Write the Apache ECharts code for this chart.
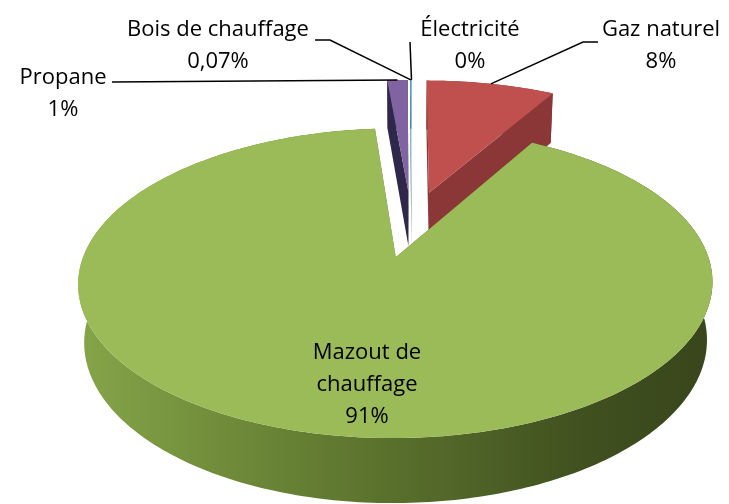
<!DOCTYPE html>
<html style="height: 100%">
<head>
    <meta charset="utf-8">
</head>
<body style="height: 100%; margin: 0; background: #fff">
    <div id="container" style="width: 729px; height: 504px"></div>
    <script type="text/javascript" src="https://cdn.jsdelivr.net/npm/echarts@6/dist/echarts.min.js"></script>
    <script type="text/javascript">
        // data (pie order, clockwise from 12 o'clock)
        var names = ['Électricité', 'Gaz naturel', 'Mazout de chauffage', 'Propane', 'Bois de chauffage'];
        var values = [0, 8.2, 90.5, 1.3, 0.07];
        var labelNames = ['Électricité', 'Gaz naturel', 'Mazout de\nchauffage', 'Propane', 'Bois de chauffage'];

        // look
        var topColors = ['#4f81bd', '#c0504d', '#9bbb59', '#8064a2', '#4bacc6'];
        var sideColors = ['#2f4b70', '#8b3737', null, '#30284a', '#2d6878'];
        var drawRank = [0, 3, 4, 2, 1];   // back to front
        var labelPos = [[470, 46], [661, 46], [367, 385], [63, 94], [218, 46]];
        var leaders = [[[410, 42]], [[583, 42], [598, 42]], null, [[112, 82]], [[330, 40], [315, 40]]];

        // perspective camera for the 3d pie (radius = 1)
        var F = 1682, FX = 0.984, L = 5.5, S = 0.456, C = 0.89, CX = 411.5, CY = 223.6;
        var DEPTH = 0.209, EXPLODE = 0.237;

        var total = values.reduce(function (a, b) { return a + b; }, 0);
        var starts = [];
        var acc = 0;
        values.forEach(function (v) { starts.push(acc / total * Math.PI * 2); acc += v; });

        function proj(u, v, h) {
            var yc = v * S + h * C;
            var zc = L + v * C - h * S;
            return [CX + FX * F * u / zc, CY - F * yc / zc];
        }

        function fmtPct(v) {
            var s = (v > 0 && v < 0.5) ? v.toFixed(2) : String(Math.round(v));
            return s.replace('.', ',') + '%';
        }

        var greenSide = new echarts.graphic.LinearGradient(77, 0, 712, 0, [
            { offset: 0, color: '#86a549' },
            { offset: 0.35, color: '#657f33' },
            { offset: 0.8, color: '#40501f' },
            { offset: 1, color: '#38461b' }
        ], true);

        function renderItem(params, api) {
            var i = params.dataIndex;
            var a0 = starts[i];
            var a1 = a0 + api.value(0) / total * Math.PI * 2;
            var mid = (a0 + a1) / 2;
            var ou = EXPLODE * Math.sin(mid), ov = EXPLODE * Math.cos(mid);
            var rim = function (a, h) { return proj(ou + Math.sin(a), ov + Math.cos(a), h); };
            var center = function (h) { return proj(ou, ov, h); };
            var base = drawRank[i] * 10;
            var children = [];

            if (a1 > a0) {
                var n = Math.max(2, Math.ceil((a1 - a0) / (Math.PI / 180)));
                var topArc = [], botArc = [];
                for (var k = 0; k <= n; k++) {
                    var a = a0 + (a1 - a0) * k / n;
                    topArc.push(rim(a, 0));
                    botArc.push(rim(a, -DEPTH));
                }
                var side = sideColors[i] || greenSide;
                children.push({
                    type: 'polygon', z2: base,
                    shape: { points: topArc.concat(botArc.slice().reverse()) },
                    style: { fill: side }
                });
                [a0, a1].forEach(function (a) {
                    children.push({
                        type: 'polygon', z2: base + 1,
                        shape: { points: [center(0), rim(a, 0), rim(a, -DEPTH), center(-DEPTH)] },
                        style: { fill: side }
                    });
                });
                children.push({
                    type: 'polygon', z2: base + 2,
                    shape: { points: [center(0)].concat(topArc) },
                    style: { fill: topColors[i] }
                });
            }

            var text = labelNames[i] + '\n' + fmtPct(api.value(0));
            if (leaders[i]) {
                children.push({
                    type: 'polyline', z2: 200,
                    shape: { points: [rim(mid, 0)].concat(leaders[i]) },
                    style: { stroke: '#000', lineWidth: 1.5, fill: null }
                });
            }
            children.push({
                type: 'text', z2: 300,
                x: labelPos[i][0], y: labelPos[i][1],
                style: {
                    text: text,
                    fill: '#000',
                    font: '22px "Open Sans"',
                    lineHeight: 32,
                    align: 'center',
                    verticalAlign: 'middle'
                }
            });
            return { type: 'group', children: children };
        }

        var dom = document.getElementById('container');
        var myChart = echarts.init(dom);
        var option = {
            animation: false,
            backgroundColor: '#fff',
            series: [
                {
                    type: 'custom',
                    coordinateSystem: 'none',
                    renderItem: renderItem,
                    data: values.map(function (v, i) { return { name: names[i], value: [v] }; })
                }
            ]
        };
        myChart.setOption(option, true);
    </script>
</body>
</html>
